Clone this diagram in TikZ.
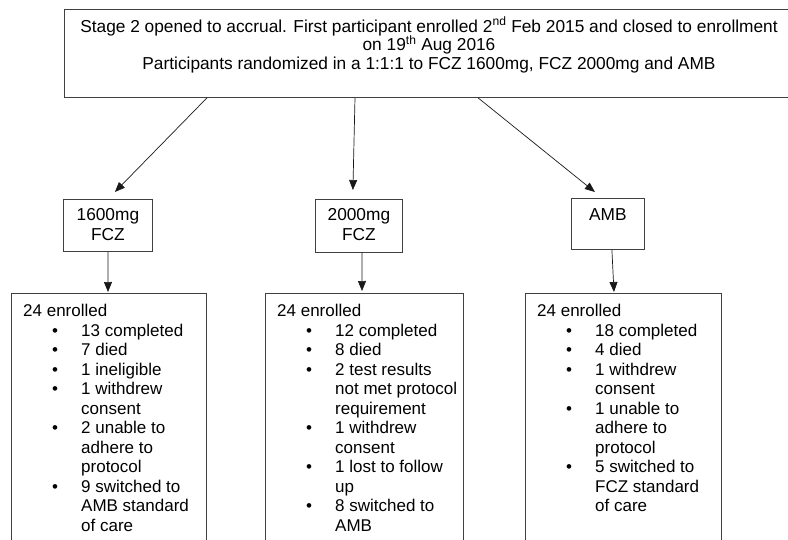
\documentclass[tikz,border=0pt]{standalone}
\usepackage{fontspec}
\setmainfont{Liberation Sans}
\usetikzlibrary{arrows.meta,calc}
\tikzset{
  box/.style={draw=black!75, line width=0.8pt, rectangle, inner sep=0pt, anchor=north west},
  arr/.style={-{Triangle[length=10pt,width=8pt]}, line width=0.7pt, black!90},
  toptxt/.style={font=\fontsize{17.3}{18}\selectfont, inner sep=0pt, anchor=base},
  armtxt/.style={font=\fontsize{17.3}{20}\selectfont, align=center, inner sep=0pt, anchor=north},
  listtxt/.style={font=\fontsize{17}{19.5}\selectfont, align=left, inner sep=0pt, anchor=north west},
}
\newcommand{\itm}{\hspace*{29pt}\makebox[29pt][l]{\textbullet}}
\newcommand{\cnt}{\hspace*{58pt}}
\begin{document}
\begin{tikzpicture}[x=1pt,y=-1pt]
\useasboundingbox (0,0) rectangle (788,539);
\clip (0,0) rectangle (788,539);
% top box
\node[box, minimum width=730pt, minimum height=88pt] (top) at (64,9) {};
\node[toptxt] (tl1) at (429,32) {Stage 2 opened to accrual. First participant enrolled 2\textsuperscript{nd} Feb 2015 and closed to enrollment};
\node[toptxt] (tl2) at (429,50.5) {on 19\textsuperscript{th} Aug 2016};
\node[toptxt] (tl3) at (429,69) {Participants randomized in a 1:1:1 to FCZ 1600mg, FCZ 2000mg and AMB};
% arm boxes
\node[box, minimum width=89pt, minimum height=52pt] (s1) at (63,199) {};
\node[box, minimum width=87pt, minimum height=53pt] (s2) at (315,199) {};
\node[box, minimum width=73pt, minimum height=51pt] (s3) at (571,198) {};
\node[armtxt] (s1t) at ($(s1.north)+(0,9)$) {1600mg\\FCZ};
\node[armtxt] (s2t) at ($(s2.north)+(0,9)$) {2000mg\\FCZ};
\node[armtxt] (s3t) at ($(s3.north)+(0,10)$) {AMB};
% list boxes
\node[box, minimum width=195pt, minimum height=300pt] (e1) at (11,293) {};
\node[box, minimum width=198pt, minimum height=300pt] (e2) at (265,293) {};
\node[box, minimum width=196pt, minimum height=300pt] (e3) at (525,293) {};
\node[listtxt] (e1t) at ($(e1.north west)+(12,11)$) {24 enrolled\\
\itm 13 completed\\
\itm 7 died\\
\itm 1 ineligible\\
\itm 1 withdrew\\
\cnt consent\\
\itm 2 unable to\\
\cnt adhere to\\
\cnt protocol\\
\itm 9 switched to\\
\cnt AMB standard\\
\cnt of care};
\node[listtxt] (e2t) at ($(e2.north west)+(12,11)$) {24 enrolled\\
\itm 12 completed\\
\itm 8 died\\
\itm 2 test results\\
\cnt not met protocol\\
\cnt requirement\\
\itm 1 withdrew\\
\cnt consent\\
\itm 1 lost to follow\\
\cnt up\\
\itm 8 switched to\\
\cnt AMB};
\node[listtxt] (e3t) at ($(e3.north west)+(12,11)$) {24 enrolled\\
\itm 18 completed\\
\itm 4 died\\
\itm 1 withdrew\\
\cnt consent\\
\itm 1 unable to\\
\cnt adhere to\\
\cnt protocol\\
\itm 5 switched to\\
\cnt FCZ standard\\
\cnt of care};
% connectors
\draw[arr] ($(top.south west)+(143,0)$) -- ($(s1.north)+(7,-7)$);
\draw[arr] ($(top.south west)+(291,0)$) -- ($(s2.north)+(-6,-9)$);
\draw[arr] ($(top.south west)+(414,0)$) -- ($(s3.north)+(-13,-6)$);
\draw[arr] ($(s1.south)+(0,0)$) -- ($(e1.north west)+(97,-1)$);
\draw[arr] ($(s2.south)+(3,0)$) -- ($(e2.north west)+(97,-2)$);
\draw[arr] ($(s3.south)+(4,0)$) -- ($(e3.north west)+(89,-1)$);
\end{tikzpicture}
\end{document}
